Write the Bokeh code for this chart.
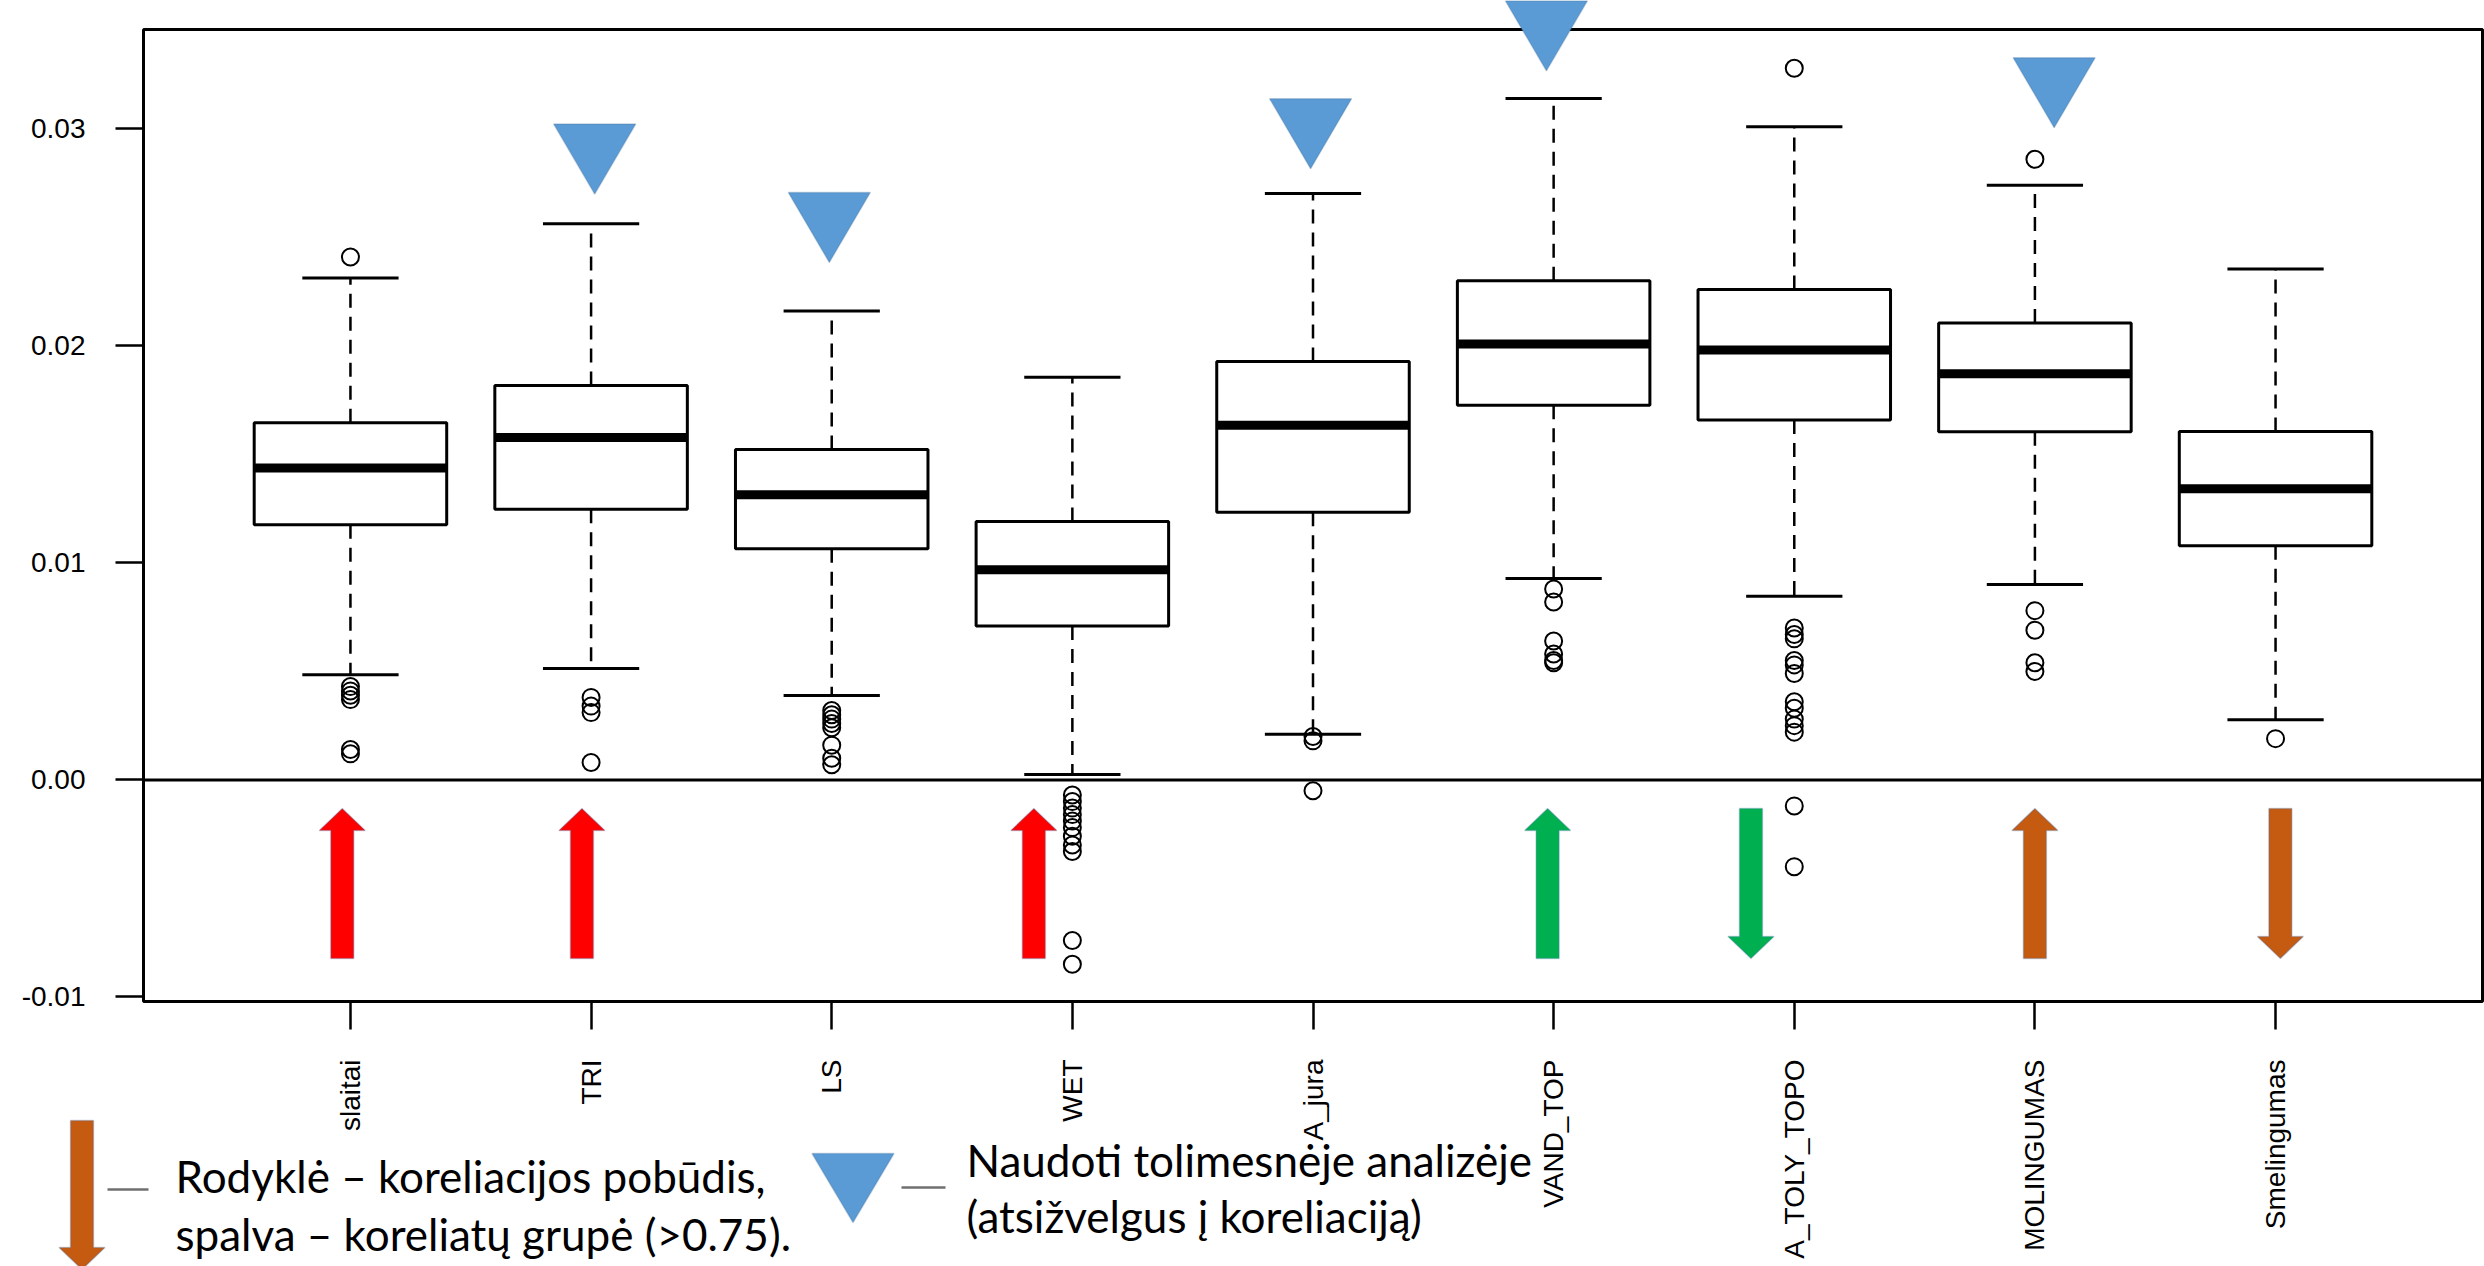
import math

from bokeh.plotting import figure
from bokeh.models import (FixedTicker, PrintfTickFormatter, PolyAnnotation, Label,
                          ColumnDataSource)
from bokeh.embed import file_html
from bokeh.resources import INLINE

# ---- data: distribution of coefficients per terrain variable ----
categories = ["slaitai", "TRI", "LS", "WET", "A_jura", "VAND_TOP",
              "A_TOLY_TOPO", "MOLINGUMAS", "Smelingumas"]
lower_whisker = [0.00485, 0.00513, 0.00389, 0.00025, 0.0021, 0.00928, 0.00846, 0.00901, 0.00277]
q1 = [0.01176, 0.01247, 0.01065, 0.00709, 0.01233, 0.01727, 0.01659, 0.01604, 0.01079]
median = [0.01437, 0.01578, 0.01314, 0.00968, 0.01634, 0.02009, 0.01981, 0.01872, 0.01342]
q3 = [0.01646, 0.01818, 0.01523, 0.01191, 0.01928, 0.02300, 0.02260, 0.02106, 0.01606]
upper_whisker = [0.02313, 0.02563, 0.02161, 0.01856, 0.02703, 0.03140, 0.03010, 0.02740, 0.02355]
outliers = [
    [0.0241, 0.0043, 0.0041, 0.0039, 0.0037, 0.0014, 0.0012],
    [0.0038, 0.0034, 0.0031, 0.0008],
    [0.0032, 0.0030, 0.0028, 0.0026, 0.0024, 0.0016, 0.0010, 0.0007],
    [-0.0007, -0.0010, -0.0013, -0.0016, -0.0019, -0.0022, -0.0026, -0.0030, -0.0033,
     -0.0074, -0.0085],
    [0.0020, 0.0018, -0.0005],
    [0.0088, 0.0082, 0.0064, 0.0058, 0.0055, 0.0054],
    [0.0328, 0.0070, 0.0067, 0.0065, 0.0055, 0.0053, 0.0049, 0.0036, 0.0033, 0.0028,
     0.0025, 0.0022, -0.0012, -0.0040],
    [0.0286, 0.0078, 0.0069, 0.0054, 0.0050],
    [0.0019],
]
y_ticks = [-0.01, 0.0, 0.01, 0.02, 0.03]

# correlation direction arrows (position along the category axis, direction, group colour)
arrow_pos = [0.966, 1.962, 3.84, 5.975, 6.82, 8.0, 9.02]
arrow_dir = ["up", "up", "up", "up", "down", "up", "down"]
arrow_col = ["#FF0000", "#FF0000", "#FF0000", "#00B050", "#00B050", "#C55A11", "#C55A11"]
# "use in further analysis" markers: (position, value of the lower tip)
marker_pos = [2.015, 2.99, 4.99, 5.97, 8.08]
marker_tip = [0.02700, 0.02385, 0.02817, 0.03268, 0.03006]

# ---- plot geometry ----
X0, X1 = 0.14, 9.86                 # plot region (category units)
Y0, Y1 = -0.010214, 0.034583        # plot region (values)
W, H = 2484, 1266
FL, FR, FT, FB = 143, 2482, 29, 1001          # plot region edges in pixels

def px_x(px):
    return X0 + (px - FL) * (X1 - X0) / (FR - FL)

def px_y(py):
    return Y1 - (py - FT) * (Y1 - Y0) / (FB - FT)

UX = (X1 - X0) / (FR - FL)      # category units per pixel
UY = (Y1 - Y0) / (FB - FT)      # value units per pixel

# the drawing area spans the whole canvas; the axes sit on the plot-region edges
p = figure(width=W, height=H, x_range=(px_x(0), px_x(W)), y_range=(px_y(H), px_y(0)),
           output_backend="svg", toolbar_location=None, min_border=0)
p.background_fill_color = "white"
p.border_fill_color = "white"
p.outline_line_color = None
p.xgrid.visible = False
p.ygrid.visible = False

ax_font = "Liberation Sans"
p.yaxis.ticker = FixedTicker(ticks=y_ticks)
p.yaxis.formatter = PrintfTickFormatter(format="%.2f")
p.yaxis.fixed_location = X0
p.xaxis.ticker = FixedTicker(ticks=list(range(1, len(categories) + 1)))
p.xaxis.major_label_overrides = {i + 1: c for i, c in enumerate(categories)}
p.xaxis.major_label_orientation = math.pi / 2
p.xaxis.fixed_location = Y0
for ax in (p.xaxis, p.yaxis):
    ax.axis_line_color = None
    ax.major_tick_in = 0
    ax.major_tick_out = 28
    ax.major_tick_line_width = 2.5
    ax.major_tick_line_color = "black"
    ax.minor_tick_line_color = None
    ax.major_label_text_font = ax_font
    ax.major_label_text_font_size = "28px"
    ax.major_label_text_color = "black"
    ax.major_label_standoff = 30

# plot-region box
p.quad(left=[X0], right=[X1], bottom=[Y0], top=[Y1], fill_color=None,
       line_color="black", line_width=3)

# ---- box plots ----
pos = list(range(1, len(categories) + 1))
src = ColumnDataSource(dict(
    x=pos,
    left=[x - 0.4 for x in pos], right=[x + 0.4 for x in pos],
    sl=[x - 0.2 for x in pos], sr=[x + 0.2 for x in pos],
    lw=lower_whisker, q1=q1, med=median, q3=q3, uw=upper_whisker,
))
p.segment(x0="x", y0="q3", x1="x", y1="uw", source=src, line_color="black",
          line_width=2.5, line_dash="14 9")
p.segment(x0="x", y0="q1", x1="x", y1="lw", source=src, line_color="black",
          line_width=2.5, line_dash="14 9")
p.segment(x0="sl", y0="uw", x1="sr", y1="uw", source=src, line_color="black", line_width=3)
p.segment(x0="sl", y0="lw", x1="sr", y1="lw", source=src, line_color="black", line_width=3)
p.quad(left="left", right="right", bottom="q1", top="q3", source=src,
       fill_color="white", line_color="black", line_width=3)
p.segment(x0="left", y0="med", x1="right", y1="med", source=src, line_color="black",
          line_width=9)

ox = [pos[i] for i, vals in enumerate(outliers) for _ in vals]
oy = [v for vals in outliers for v in vals]
p.scatter(ox, oy, marker="circle", size=17, fill_color=None, line_color="black",
          line_width=2)

# zero reference line
p.segment(x0=[X0], y0=[0], x1=[X1], y1=[0], line_color="black", line_width=3)

# ---- overlay shapes ----
SHAFT_HW, HEAD_HW, HEAD_LEN = 11.5 * UX, 23 * UX, 22 * UY
ARROW_TOP, ARROW_BOTTOM = px_y(808), px_y(958)
ARROW_EDGE = "#4A74A8"

def arrow_shape(xc, y_tail, y_tip):
    s = 1 if y_tip > y_tail else -1
    yb = y_tip - s * HEAD_LEN
    xs = [xc - SHAFT_HW, xc - SHAFT_HW, xc - HEAD_HW, xc, xc + HEAD_HW,
          xc + SHAFT_HW, xc + SHAFT_HW]
    ys = [y_tail, yb, yb, y_tip, yb, yb, y_tail]
    return xs, ys

for xc, d, col in zip(arrow_pos, arrow_dir, arrow_col):
    if d == "up":
        xs, ys = arrow_shape(xc, ARROW_BOTTOM, ARROW_TOP)
    else:
        xs, ys = arrow_shape(xc, ARROW_TOP, ARROW_BOTTOM)
    p.add_layout(PolyAnnotation(xs=xs, ys=ys, fill_color=col, fill_alpha=1,
                                line_color=ARROW_EDGE, line_width=1.5))

TRI_HW, TRI_H = 41 * UX, 70 * UY
TRI_FILL, TRI_EDGE = "#5B9BD5", "#41719C"
for xc, tip in zip(marker_pos, marker_tip):
    p.add_layout(PolyAnnotation(xs=[xc - TRI_HW, xc + TRI_HW, xc],
                                ys=[tip + TRI_H, tip + TRI_H, tip],
                                fill_color=TRI_FILL, fill_alpha=1,
                                line_color=TRI_EDGE, line_width=1.5))

# ---- key below the axis ----
lx, ly_tail, ly_tip = px_x(81.5), px_y(1120), px_y(1269)
xs, ys = arrow_shape(lx, ly_tail, ly_tip)
p.add_layout(PolyAnnotation(xs=xs, ys=ys, fill_color="#C55A11", fill_alpha=1,
                            line_color=ARROW_EDGE, line_width=1.5))
p.add_layout(PolyAnnotation(xs=[px_x(852.5) - TRI_HW, px_x(852.5) + TRI_HW, px_x(852.5)],
                            ys=[px_y(1153), px_y(1153), px_y(1222)],
                            fill_color=TRI_FILL, fill_alpha=1,
                            line_color=TRI_EDGE, line_width=1.5))
for a, b, yy in [(107, 148, 1189), (901, 945, 1187)]:
    p.add_layout(PolyAnnotation(xs=[px_x(a), px_x(b), px_x(b), px_x(a)],
                                ys=[px_y(yy - 1.2), px_y(yy - 1.2), px_y(yy + 1.2), px_y(yy + 1.2)],
                                fill_color="#6F6F6F", fill_alpha=1, line_color=None))

key_font = "Lato"
key_lines = [
    (175, 1175, "Rodyklė – koreliacijos pobūdis,"),
    (175, 1233, "spalva – koreliatų grupė (>0.75)."),
    (966, 1159, "Naudoti tolimesnėje analizėje"),
    (966, 1215, "(atsižvelgus į koreliaciją)"),
]
for xp, yp, txt in key_lines:
    p.add_layout(Label(x=px_x(xp), y=px_y(yp), text=txt, text_font=key_font,
                       text_font_size="44px", text_color="black",
                       text_baseline="alphabetic", text_align="left"))

open("out.html", "w").write(file_html(p, INLINE))
